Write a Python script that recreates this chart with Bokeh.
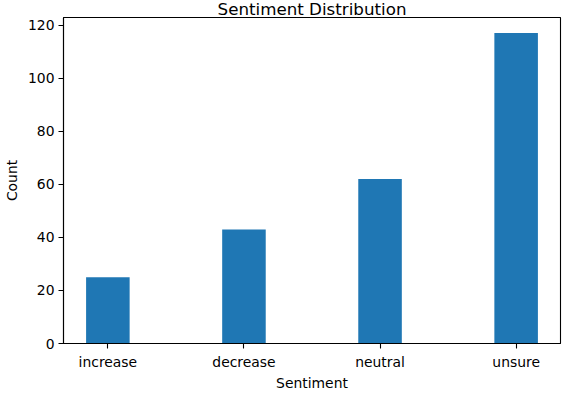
from bokeh.plotting import figure
from bokeh.models import Range1d, FixedTicker, ColumnDataSource
from bokeh.embed import file_html
from bokeh.resources import INLINE

categories = ["increase", "decrease", "neutral", "unsure"]
counts = [25, 43, 62, 117]
y_ticks = [0, 20, 40, 60, 80, 100, 120]
title_text = "Sentiment Distribution"

xs = list(range(len(categories)))
bar_w = 0.32
pad = 0.05 * (len(categories) - 1 + bar_w)
x0 = -bar_w / 2 - pad
x1 = len(categories) - 1 + bar_w / 2 + pad
ytop = max(counts) * 1.05

src = ColumnDataSource(dict(x=xs, top=counts))

FONT = "DejaVu Sans"

p = figure(width=568, height=393, output_backend="svg", toolbar_location=None,
           x_range=Range1d(x0, x1), y_range=Range1d(0, ytop), title=title_text,
           min_border_left=62, min_border_right=8, min_border_bottom=50, min_border_top=0)

p.vbar(x="x", top="top", width=bar_w, source=src, fill_color="#1f77b4", line_color=None)

p.title.text_font = FONT
p.title.text_font_size = "16.7px"
p.title.text_font_style = "normal"
p.title.align = "center"
p.title.vertical_align = "middle"
p.title.text_color = "#000000"
p.title.offset = 0
p.title.standoff = -5

p.xgrid.grid_line_color = None
p.ygrid.grid_line_color = None
p.outline_line_color = "#000000"
p.outline_line_width = 1.1
p.background_fill_color = "white"
p.border_fill_color = "white"

p.xaxis.ticker = FixedTicker(ticks=xs)
p.xaxis.major_label_overrides = {i: c for i, c in zip(xs, categories)}
p.yaxis.ticker = FixedTicker(ticks=y_ticks)
p.xaxis.axis_label = "Sentiment"
p.yaxis.axis_label = "Count"

for ax in (p.xaxis, p.yaxis):
    ax.axis_line_color = "#000000"
    ax.axis_line_width = 1.1
    ax.major_tick_line_color = "#000000"
    ax.major_tick_line_width = 1.1
    ax.major_tick_in = 0
    ax.major_tick_out = 5
    ax.minor_tick_line_color = None
    ax.major_label_text_font = FONT
    ax.major_label_text_font_size = "13.9px"
    ax.major_label_text_color = "#000000"
    ax.axis_label_text_font = FONT
    ax.axis_label_text_font_size = "13.9px"
    ax.axis_label_text_font_style = "normal"
    ax.axis_label_text_color = "#000000"

p.xaxis.major_label_standoff = 5
p.xaxis.axis_label_standoff = 2
p.yaxis.major_label_standoff = 4
p.yaxis.axis_label_standoff = 5

open("out.html", "w").write(file_html(p, INLINE))
